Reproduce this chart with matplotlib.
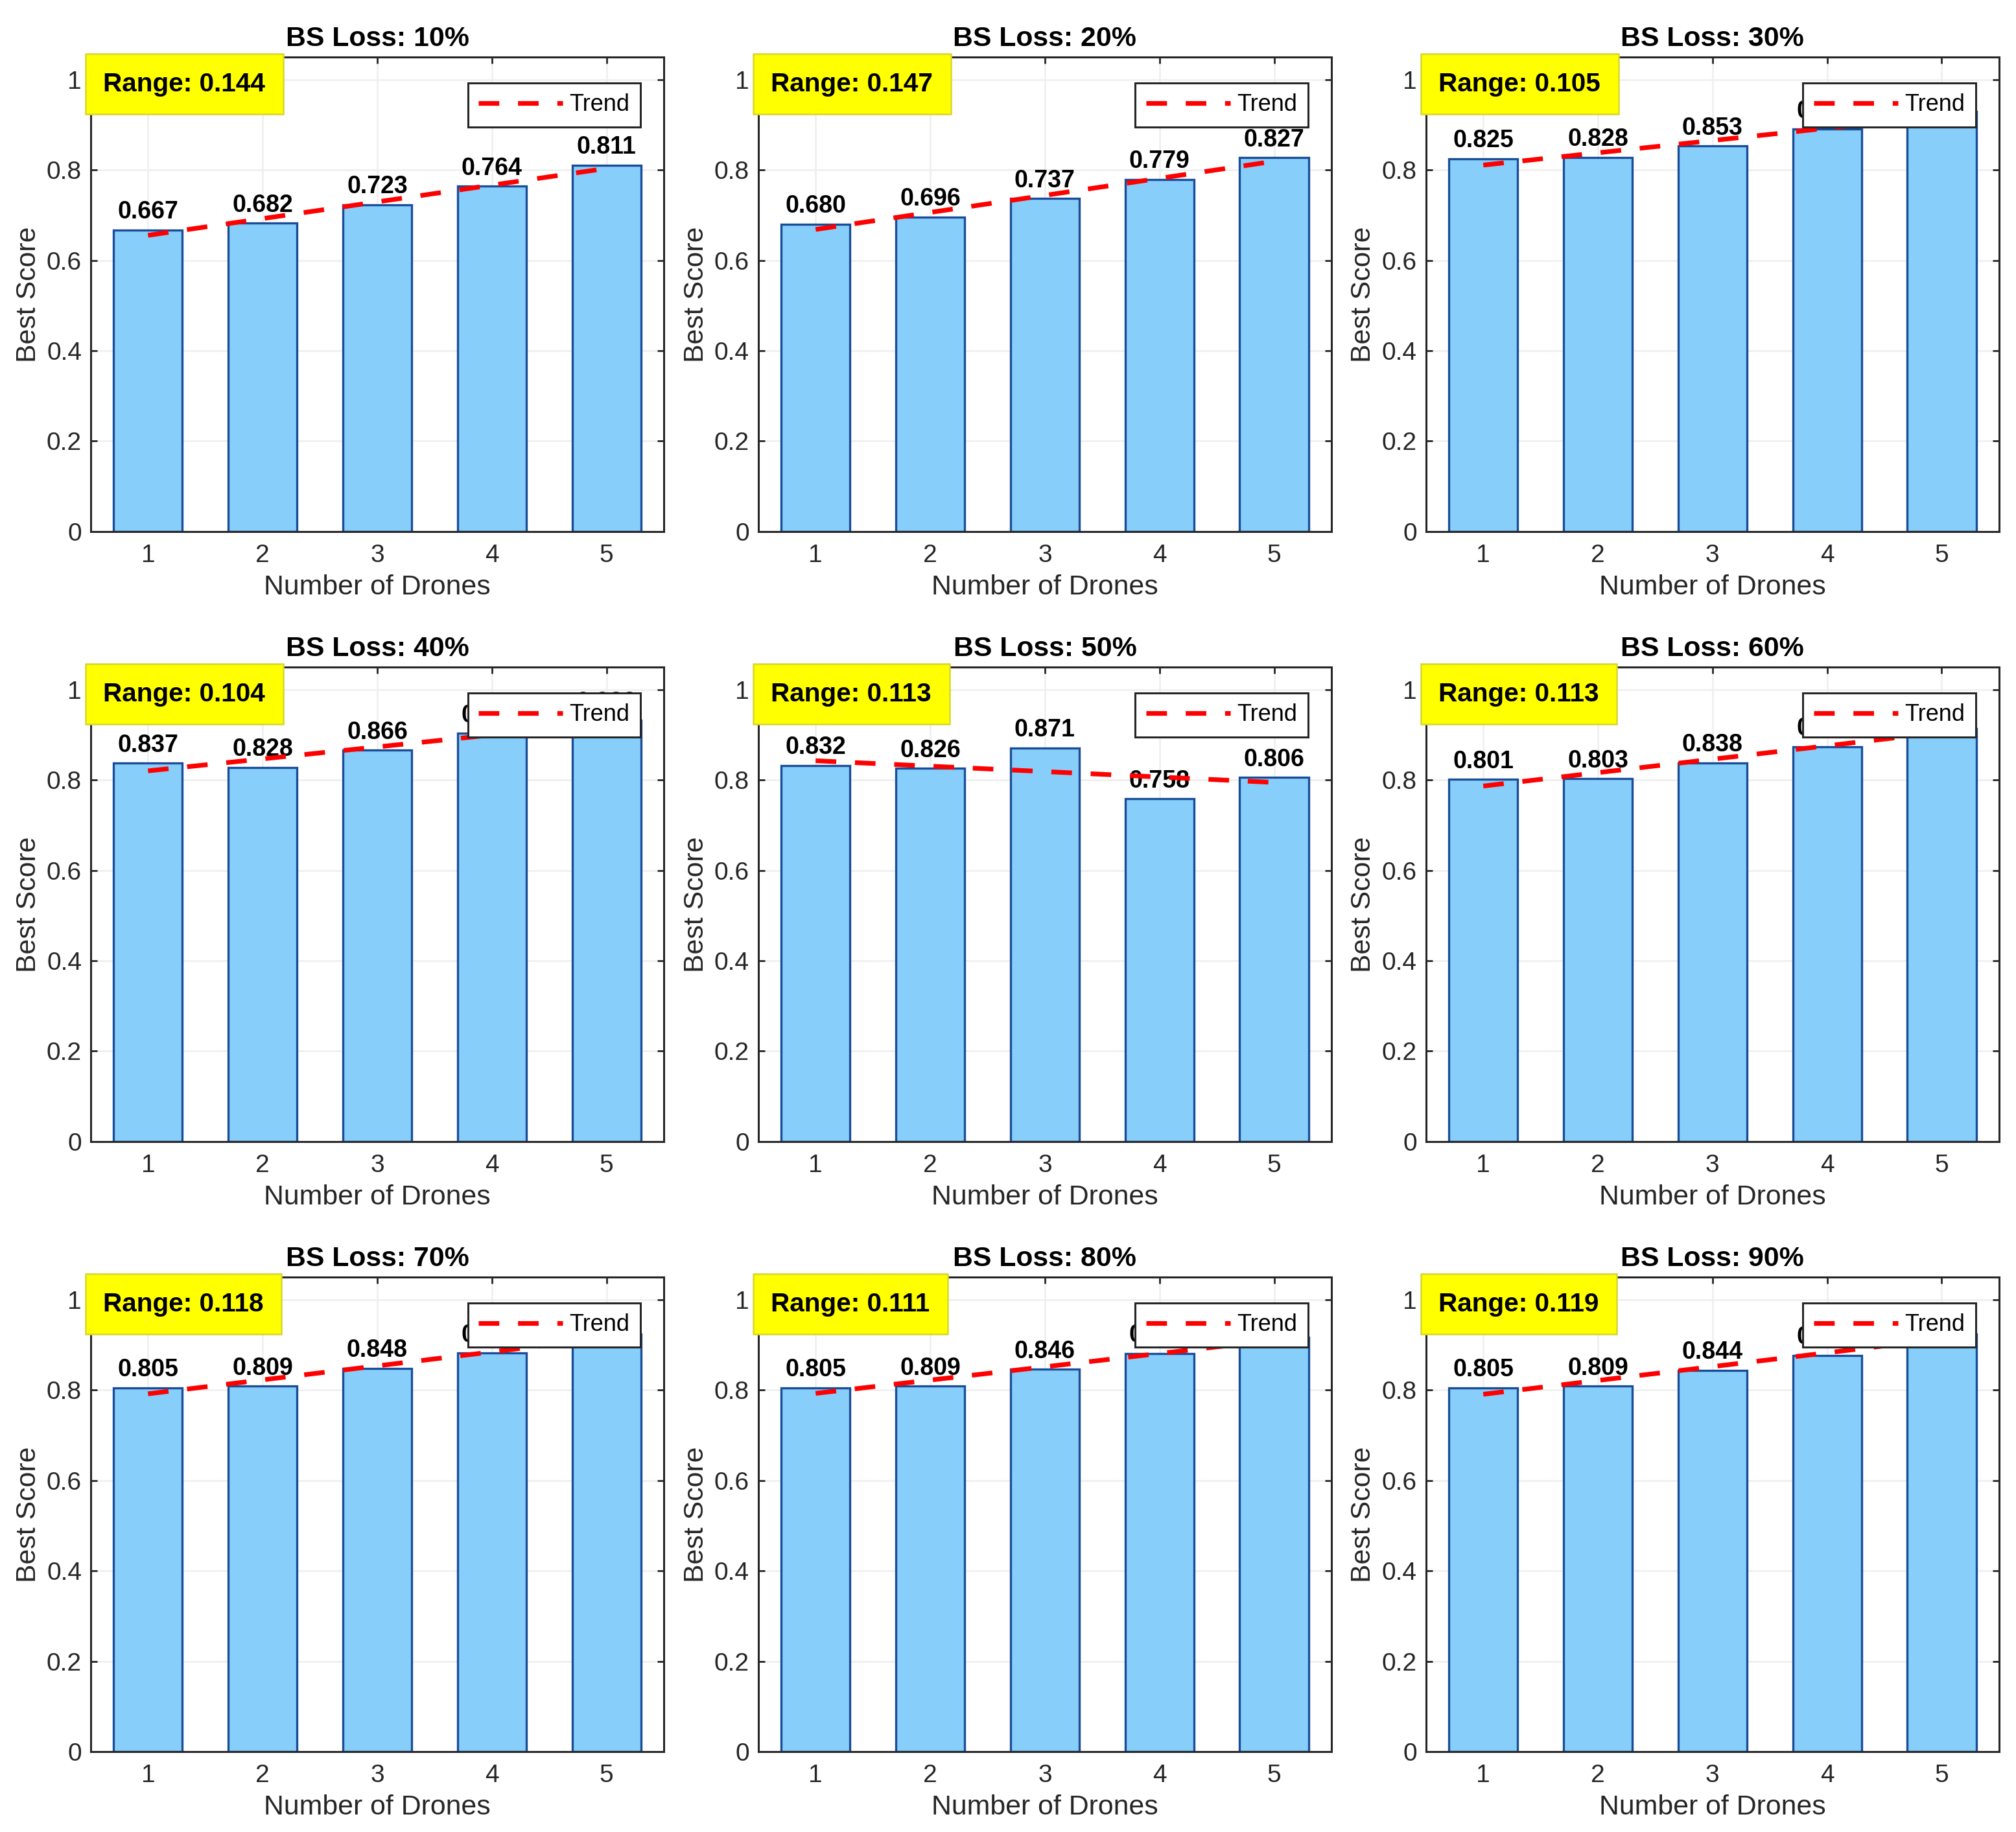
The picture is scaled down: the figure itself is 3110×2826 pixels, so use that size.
import matplotlib.pyplot as plt
import numpy as np

plt.rcParams['font.family'] = ['Liberation Sans', 'DejaVu Sans']

# number of drones on the x axis
drones = [1, 2, 3, 4, 5]
loss_levels = [10, 20, 30, 40, 50, 60, 70, 80, 90]

# best score per drone count, one list per BS loss level
scores_10 = [0.667, 0.682, 0.723, 0.764, 0.811]
scores_20 = [0.680, 0.696, 0.737, 0.779, 0.827]
scores_30 = [0.825, 0.828, 0.853, 0.890, 0.930]
scores_40 = [0.837, 0.828, 0.866, 0.903, 0.932]
scores_50 = [0.832, 0.826, 0.871, 0.758, 0.806]
scores_60 = [0.801, 0.803, 0.838, 0.874, 0.914]
scores_70 = [0.805, 0.809, 0.848, 0.882, 0.923]
scores_80 = [0.805, 0.809, 0.846, 0.881, 0.916]
scores_90 = [0.805, 0.809, 0.844, 0.877, 0.924]

all_scores = [scores_10, scores_20, scores_30, scores_40, scores_50,
              scores_60, scores_70, scores_80, scores_90]

ytick_vals = [0, 0.2, 0.4, 0.6, 0.8, 1]
ytick_labels = ['0', '0.2', '0.4', '0.6', '0.8', '1']

dark = '#262626'

fig, axes = plt.subplots(3, 3, figsize=(15.55, 14.13), dpi=200)
plt.subplots_adjust(left=0.045, right=0.9916, bottom=0.0439, top=0.9689,
                    wspace=0.165, hspace=0.2855)

for ax, loss, scores in zip(axes.flat, loss_levels, all_scores):
    x = np.array(drones)
    y = np.array(scores)
    ax.bar(x, y, width=0.6, color='#87CEFA', edgecolor='#1A4D99',
           linewidth=1.2, zorder=2)

    # linear trend
    p = np.polyfit(x, y, 1)
    ax.plot(x, np.polyval(p, x), color='red', linewidth=2.6,
            dashes=(4.4, 4.0), label='Trend', zorder=4)

    for xi, yi in zip(x, y):
        ax.text(xi, yi + 0.025, '%.3f' % yi, ha='center', va='baseline',
                fontsize=13.5, fontweight='bold', zorder=3)

    rng = y.max() - y.min()
    ax.text(0.022, 0.943, 'Range: %.3f' % rng, transform=ax.transAxes,
            ha='left', va='center', fontsize=14.6, fontweight='bold', zorder=6,
            bbox=dict(boxstyle='square,pad=0.68', facecolor='yellow',
                      edgecolor='#d6d630', linewidth=0.9))

    ax.set_xlim(0.5, 5.5)
    ax.set_ylim(0, 1.05)
    ax.set_xticks(drones)
    ax.set_xticklabels([str(d) for d in drones])
    ax.set_yticks(ytick_vals)
    ax.set_yticklabels(ytick_labels)
    ax.set_axisbelow(True)
    ax.grid(True, color='#eeeeee', linewidth=0.9)
    ax.tick_params(direction='in', top=True, right=True, length=3.6,
                   width=1.0, colors=dark, labelsize=14, labelcolor=dark)
    ax.tick_params(axis='x', pad=7)
    ax.tick_params(axis='y', pad=5)
    for s in ax.spines.values():
        s.set_color(dark)
        s.set_linewidth(1.1)

    ax.set_title('BS Loss: %d%%' % loss, fontsize=15.4, fontweight='bold', pad=6)
    ax.set_xlabel('Number of Drones', fontsize=15.4, color=dark, labelpad=4)
    ax.set_ylabel('Best Score', fontsize=15.4, color=dark, labelpad=3)

    leg = ax.legend(loc='upper right', bbox_to_anchor=(0.959, 0.945),
                    borderaxespad=0, fontsize=13, fancybox=False,
                    framealpha=1, edgecolor=dark, handlelength=3.6,
                    handletextpad=0.3, borderpad=0.45)
    leg.get_frame().set_linewidth(1.1)
    leg.set_zorder(5)

fig.savefig('out.png', dpi=200)
